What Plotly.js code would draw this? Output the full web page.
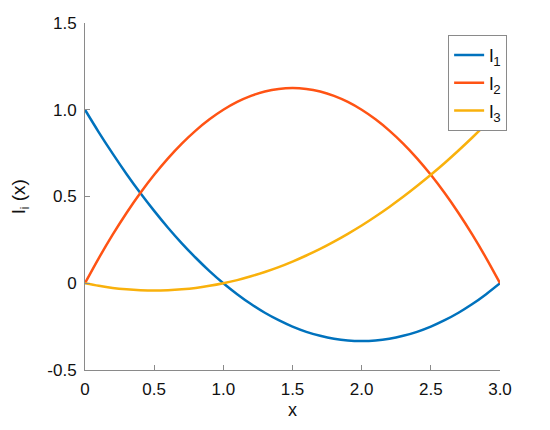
<!DOCTYPE html>
<html>
<head>
    <script src="https://cdn.plot.ly/plotly-3.0.1.min.js"></script>
    <style>
        body { margin: 0; background: #fff; }
        #plot { width: 550px; height: 430px; }
    </style>
</head>
<body>
    <div id="plot"></div>
    <script>
        // values, step 0.1
        const xs = [0, 0.1, 0.2, 0.3, 0.4, 0.5, 0.6, 0.7, 0.8, 0.9, 1.0,
                    1.1, 1.2, 1.3, 1.4, 1.5, 1.6, 1.7, 1.8, 1.9, 2.0,
                    2.1, 2.2, 2.3, 2.4, 2.5, 2.6, 2.7, 2.8, 2.9, 3.0];
        const l1 = [1, 0.87, 0.747, 0.63, 0.52, 0.417, 0.32, 0.23, 0.147, 0.07, 0,
                    -0.063, -0.12, -0.17, -0.213, -0.25, -0.28, -0.303, -0.32, -0.33, -0.333,
                    -0.33, -0.32, -0.303, -0.28, -0.25, -0.213, -0.17, -0.12, -0.063, 0];
        const l2 = [0, 0.145, 0.28, 0.405, 0.52, 0.625, 0.72, 0.805, 0.88, 0.945, 1,
                    1.045, 1.08, 1.105, 1.12, 1.125, 1.12, 1.105, 1.08, 1.045, 1,
                    0.945, 0.88, 0.805, 0.72, 0.625, 0.52, 0.405, 0.28, 0.145, 0];
        const l3 = [0, -0.015, -0.027, -0.035, -0.04, -0.042, -0.04, -0.035, -0.027, -0.015, 0,
                    0.018, 0.04, 0.065, 0.093, 0.125, 0.16, 0.198, 0.24, 0.285, 0.333,
                    0.385, 0.44, 0.498, 0.56, 0.625, 0.693, 0.765, 0.84, 0.918, 1];

        const names = ["l<sub>1</sub>", "l<sub>2</sub>", "l<sub>3</sub>"];
        const colors = ["#0072BD", "#FF5314", "#F9B10C"];

        const xTickVals = [0, 0.5, 1, 1.5, 2, 2.5, 3];
        const xTickText = ["0", "0.5", "1.0", "1.5", "2.0", "2.5", "3.0"];
        const yTickVals = [-0.5, 0, 0.5, 1, 1.5];
        const yTickText = ["-0.5", "0", "0.5", "1.0", "1.5"];

        const traces = [l1, l2, l3].map((ys, i) => ({
            x: xs,
            y: ys,
            type: "scatter",
            mode: "lines",
            name: names[i],
            line: { color: colors[i], width: 2.5, shape: "spline" }
        }));

        const axisCommon = {
            showgrid: false,
            zeroline: false,
            showline: true,
            linecolor: "#8a8a8a",
            linewidth: 1,
            ticks: "inside",
            ticklen: 5,
            tickcolor: "#8a8a8a",
            tickfont: { size: 17, color: "#111" }
        };

        const layout = {
            width: 550,
            height: 430,
            margin: { l: 85, r: 50, t: 23, b: 60 },
            paper_bgcolor: "#fff",
            plot_bgcolor: "#fff",
            font: { family: "Liberation Sans, Arial, sans-serif", color: "#111" },
            xaxis: Object.assign({}, axisCommon, {
                range: [0, 3],
                tickvals: xTickVals,
                ticktext: xTickText,
                ticklabelstandoff: 4,
                title: { text: "x", font: { size: 18 }, standoff: 4 }
            }),
            yaxis: Object.assign({}, axisCommon, {
                range: [-0.5, 1.5],
                tickvals: yTickVals,
                ticktext: yTickText,
                ticklabelstandoff: 4,
                title: { text: "l<sub>i</sub> (x)", font: { size: 19 }, standoff: 16 }
            }),
            legend: {
                x: 0.875,
                y: 0.965,
                xanchor: "left",
                yanchor: "top",
                bordercolor: "#8a8a8a",
                borderwidth: 1,
                bgcolor: "#fff",
                font: { size: 19 }
            }
        };

        Plotly.newPlot("plot", traces, layout, { displayModeBar: false });
    </script>
</body>
</html>
